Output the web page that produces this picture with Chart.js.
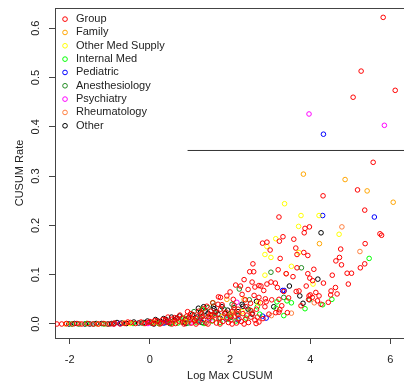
<!DOCTYPE html>
<html><head><meta charset="utf-8">
<script src="https://cdn.jsdelivr.net/npm/chart.js@4"></script>
<style>html,body{margin:0;padding:0;background:#fff;overflow:hidden;width:404px;height:383px}</style>
</head><body>
<canvas id="c" width="408" height="383"></canvas>
<script>
const categories = ['Group','Family','Other Med Supply','Internal Med','Pediatric','Anesthesiology','Psychiatry','Rheumatology','Other'];
const xTicks = [-2, 0, 2, 4, 6];
const yTicks = [0, 0.1, 0.2, 0.3, 0.4, 0.5, 0.6];
const cutLine = [[0.94, 0.352], [6.5, 0.352]];

const group = [
 [-2.32,0],[-2.2,0],[-2.08,0.001],[-1.93,0],[-1.82,0.001],[-1.7,0],[-1.55,0.001],[-1.42,0],[-1.28,0],[-1.15,0.001],
 [-1.0,0],[-0.88,0.002],[-0.74,0],[-0.62,0.001],[-0.48,0.003],[-0.36,0.001],[-0.22,0.004],[-0.12,0.001],[0.0,0.005],[0.08,0.001],
 [0.18,0.006],[0.28,0.002],[0.38,0.008],[0.48,0.003],[0.56,0.01],[0.64,0.001],[0.72,0.006],[0.8,0.012],[0.86,0.003],[0.92,0.016],
 [1.0,0.008],[1.04,0.002],[1.1,0.018],[1.16,0.011],[1.22,0.004],[1.28,0.021],[1.34,0.009],[1.4,0.002],[1.46,0.015],[1.52,0.026],
 [1.56,0.007],[1.62,0.018],[1.66,0.002],[1.72,0.011],[1.76,0.03],[1.82,0.005],[1.86,0.021],[1.92,0.013],[1.96,0.003],[2.02,0.008],
 [2.06,0.026],[2.12,0.016],[2.16,0.002],[2.22,0.011],[2.28,0.005],[2.32,0.021],[2.38,0.009],[2.46,0.003],[2.52,0.014],[2.62,0.008],
 [2.72,0.004],[2.82,0.011],[1.22,0.026],[0.94,0.025],[1.34,0.031],[1.57,0.043],[0.62,0.013],[0.32,0.009],[-0.55,0.004],[1.02,0.021],
 [1.42,0.036],[1.7,0.04],[0.45,0.014],[0.75,0.018],
 [-0.05,0.003],[0.12,0.007],[0.42,0.004],[0.68,0.011],[0.98,0.014],[1.12,0.006],[1.3,0.014],[1.5,0.019],[1.64,0.024],[1.9,0.024],
 [2.0,0.016],[2.18,0.02],[2.42,0.018],[2.56,0.022],[2.68,0.014],[0.25,0],[0.55,0],[0.85,0],[1.15,0],[1.45,0],
 [1.75,0],[2.05,0],[2.35,0],[2.65,0.001],[-0.9,0],
 [5.82,0.622],[5.27,0.513],[6.12,0.474],[5.07,0.46],[5.57,0.328],
 [5.18,0.272],[4.32,0.26],[5.36,0.231],[3.22,0.217],[3.87,0.194],[3.98,0.197],[3.85,0.185],[5.74,0.183],[5.78,0.18],[3.32,0.177],
 [3.23,0.168],[3.59,0.172],[2.81,0.164],[2.92,0.166],[5.37,0.163],[3.64,0.154],[3.0,0.15],[4.76,0.152],[3.84,0.145],[3.94,0.139],
 [3.67,0.141],[3.25,0.133],[4.73,0.135],[4.64,0.128],[5.36,0.122],[5.25,0.114],[4.78,0.12],[2.57,0.122],[2.49,0.106],[2.59,0.106],
 [3.67,0.114],[3.2,0.11],[4.09,0.111],[3.94,0.102],[3.4,0.102],[3.57,0.096],[3.99,0.093],[4.92,0.103],[5.03,0.103],[4.55,0.099],
 [4.06,0.088],[4.33,0.083],[4.95,0.081],[3.02,0.085],[3.13,0.083],[2.92,0.081],[2.77,0.077],[2.62,0.075],[2.72,0.078],[2.26,0.077],
 [2.84,0.068],[3.18,0.074],[3.9,0.077],[3.34,0.066],[3.65,0.066],[3.72,0.067],[3.97,0.057],[4.0,0.059],[4.22,0.057],[4.51,0.059],
 [4.52,0.067],[4.63,0.074],[4.67,0.061],[3.46,0.053],[3.22,0.05],[2.72,0.054],[2.88,0.051],[2.76,0.043],[3.04,0.049],[3.29,0.037],
 [3.77,0.037],[3.96,0.05],[3.24,0.029],[3.43,0.023],[2.51,0.042],[2.38,0.049],[2.66,0.03],[2.87,0.035],[2.97,0.02],[3.14,0.023],
 [3.22,0.024],[2.14,0.079],[1.92,0.057],[1.76,0.054],[2.08,0.05],[2.52,0.027],[4.18,0.047],[4.27,0.04],[4.45,0.044],[4.14,0.064],
 [4.05,0.054],[2.0,0.065],[2.3,0.06],[2.45,0.07],[2.6,0.058],[2.1,0.038],[2.2,0.03],[2.4,0.035],[2.9,0.045],[2.55,0.085],
 [2.35,0.09],[1.71,0.055],[1.8,0.039]
];
const family = [
 [-2.1,0],[-1.3,0],[-0.65,0.002],[0.12,0.003],[0.6,0.005],[1.1,0.009],[1.5,0.015],[1.92,0.05],[2.35,0.05],[2.05,0.02],
 [3.83,0.304],[4.87,0.293],[5.42,0.27],[6.07,0.247],[4.23,0.163]
];
const otherMedSupply = [
 [3.36,0.244],[3.77,0.22],[4.22,0.22],[3.71,0.198],[4.72,0.182],[3.14,0.173],[2.92,0.157],[3.72,0.145],[2.87,0.141],[3.02,0.135],
 [3.53,0.117],[2.87,0.099],[4.07,0.081],[2.7,0.043],[1.8,0.015],[0.9,0.005],[-0.5,0.001],[2.3,0.025]
];
const internalMed = [
 [-1.95,0],[-1.58,0.001],[-1.15,0],[-0.42,0.001],[0.22,0.001],[0.52,0.001],[0.7,0.002],[0.95,0.002],[1.15,0.004],[1.35,0.001],
 [1.55,0.006],[1.75,0.003],[1.95,0.01],[2.15,0.006],[2.4,0.012],[2.68,0.035],[2.74,0.02],[3.15,0.032],[3.17,0.045],[3.34,0.017],
 [3.42,0.047],[3.53,0.043],[3.87,0.031],[4.31,0.039],[4.54,0.05],[5.47,0.133],[2.0,0.02],[2.5,0.028],[1.3,0.03],[1.57,0.043],[0.85,0.012]
];
const pediatric = [
 [4.33,0.385],[4.31,0.22],[5.6,0.217],[3.31,0.068],[3.35,0.068],[2.81,0.016],[2.9,0.012],[-0.75,0.001],[0.35,0.002],[1.25,0.006],
 [1.9,0.01],[2.2,0.008]
];
const anesthesiology = [
 [-1.78,0],[-1.4,0],[-0.9,0.001],[-0.2,0.002],[0.05,0.003],[0.4,0.003],[0.9,0.006],[1.1,0.025],[1.25,0.012],[1.45,0.033],
 [1.62,0.022],[1.85,0.03],[2.05,0.04],[2.2,0.018],[2.23,0.071],[2.48,0.049],[3.02,0.105],[3.34,0.054],[3.78,0.114],[3.98,0.049]
];
const psychiatry = [
 [3.97,0.426],[5.85,0.403],[2.17,0.044],[-0.9,0],[-0.05,0.001],[0.45,0.004],[1.0,0.002],[1.5,0.01]
];
const rheumatology = [
 [-1.75,0],[-1.1,0],[-0.15,0.001],[0.3,0.002],[0.75,0.004],[1.3,0.018],[1.65,0.012],[2.1,0.03],[3.03,0.017],[3.53,0.022],
 [4.1,0.043],[3.4,0.102],[4.79,0.197],[5.24,0.147]
];
const other = [
 [-2.02,0],[-1.88,0.001],[-1.62,0],[-1.5,0],[-1.34,0.001],[-1.2,0.001],[-1.05,0],[-0.95,0.001],[-0.82,0.003],[-0.7,0.002],
 [-0.58,0.001],[-0.4,0.004],[-0.28,0.002],[-0.15,0.003],[-0.06,0.006],[0.04,0.002],[0.1,0],[0.14,0.009],[0.2,0.006],[0.24,0.004],
 [0.34,0.011],[0.4,0.009],[0.44,0.005],[0.5,0.001],[0.54,0.014],[0.62,0.008],[0.68,0.012],[0.74,0.016],[0.82,0.004],[0.88,0.009],
 [0.9,0.001],[0.96,0.012],[1.06,0.019],[1.12,0.008],[1.18,0.014],[1.21,0.032],[1.26,0.023],[1.3,0.003],[1.32,0.016],[1.34,0.035],
 [1.38,0.026],[1.45,0.022],[1.48,0.012],[1.55,0.018],[1.59,0.036],[1.6,0.031],[1.65,0.025],[1.7,0.02],[1.75,0.012],[1.8,0.035],
 [1.88,0.022],[1.94,0.028],[2.02,0.014],[2.1,0.033],[2.2,0.025],[2.3,0.04],[2.32,0.036],[2.45,0.03],[2.55,0.02],[2.66,0.046],
 [3.09,0.035],[3.48,0.077],[3.74,0.057],[3.82,0.042],[4.19,0.091],[4.27,0.185]
];

const seriesData = [group, family, otherMedSupply, internalMed, pediatric, anesthesiology, psychiatry, rheumatology, other];
const colors = ['#FF0000','#FFA500','#FFFF00','#00FF00','#0000FF','#228B22','#FF00FF','#FF7F3F','#000000'];

const FONT = "'Liberation Sans', Arial, sans-serif";
const toXY = arr => arr.map(p => ({x: p[0], y: p[1]}));

const datasets = [{
  type: 'line', label: 'cut', data: toXY(cutLine),
  borderColor: '#333', borderWidth: 1, pointRadius: 0, fill: false
}];
categories.forEach((name, i) => {
  datasets.push({
    type: 'scatter', label: name, data: toXY(seriesData[i]),
    borderColor: colors[i], backgroundColor: 'rgba(0,0,0,0)',
    pointStyle: 'circle', pointRadius: 2.3, borderWidth: 1, pointHoverRadius: 2.3
  });
});

const legendShift = {
  id: 'legendShift',
  afterLayout(chart) {
    const lg = chart.legend, ca = chart.chartArea;
    if (lg && ca) {
      const w = lg.width, h = lg.height;
      lg.left = ca.left + 2.2; lg.right = lg.left + w;
      lg.top = ca.top + 3.3; lg.bottom = lg.top + h;
    }
  }
};

const noPad = s => { s.paddingLeft = 0; s.paddingRight = 0; s.paddingTop = 0; s.paddingBottom = 0; };
const xMin = -2.3675, xMax = 6.357;

new Chart(document.getElementById('c'), {
  type: 'scatter',
  data: { datasets },
  options: {
    responsive: false, animation: false, devicePixelRatio: 1,
    layout: { padding: { top: 8, right: 0, left: 0, bottom: 0 } },
    plugins: {
      legend: {
        position: 'chartArea', align: 'start',
        labels: {
          usePointStyle: true, boxWidth: 11, boxHeight: 3.3, padding: 2.33,
          color: '#222', font: { size: 11, family: FONT },
          filter: item => item.datasetIndex > 0
        }
      },
      tooltip: { enabled: false }
    },
    scales: {
      x: {
        type: 'linear', position: 'bottom', min: xMin, max: xMax,
        afterBuildTicks: s => { s.ticks = xTicks.map(v => ({ value: v })); },
        afterFit: s => { s.height = 45; noPad(s); },
        ticks: { color: '#222', font: { size: 11, family: FONT }, padding: 9, maxRotation: 0,
                 callback: v => String(v) },
        grid: { display: true, drawOnChartArea: false, drawTicks: true, tickLength: 6, color: '#444' },
        border: { display: true, color: '#444', width: 1 },
        title: { display: true, text: 'Log Max CUSUM', color: '#222', font: { size: 11, family: FONT },
                 padding: { top: 0, bottom: 0.5 } }
      },
      x2: {
        type: 'linear', position: 'top', min: xMin, max: xMax,
        afterFit: s => { s.height = 0; noPad(s); },
        ticks: { display: false },
        grid: { display: false, drawTicks: false },
        border: { display: true, color: '#444', width: 1 }
      },
      y: {
        type: 'linear', position: 'left', min: -0.0284, max: 0.641,
        afterBuildTicks: s => { s.ticks = yTicks.map(v => ({ value: v })); },
        afterFit: s => { s.width = 55; noPad(s); },
        ticks: { color: '#222', font: { size: 11, family: FONT }, padding: 5, minRotation: 90, maxRotation: 90,
                 crossAlign: 'center', callback: v => Number(v).toFixed(1) },
        grid: { display: true, drawOnChartArea: false, drawTicks: true, tickLength: 6, color: '#444' },
        border: { display: true, color: '#444', width: 1 },
        title: { display: true, text: 'CUSUM Rate', color: '#222', font: { size: 11, family: FONT },
                 padding: { top: 13.4, bottom: 0 } }
      }
    }
  },
  plugins: [legendShift]
});
</script>
</body></html>
